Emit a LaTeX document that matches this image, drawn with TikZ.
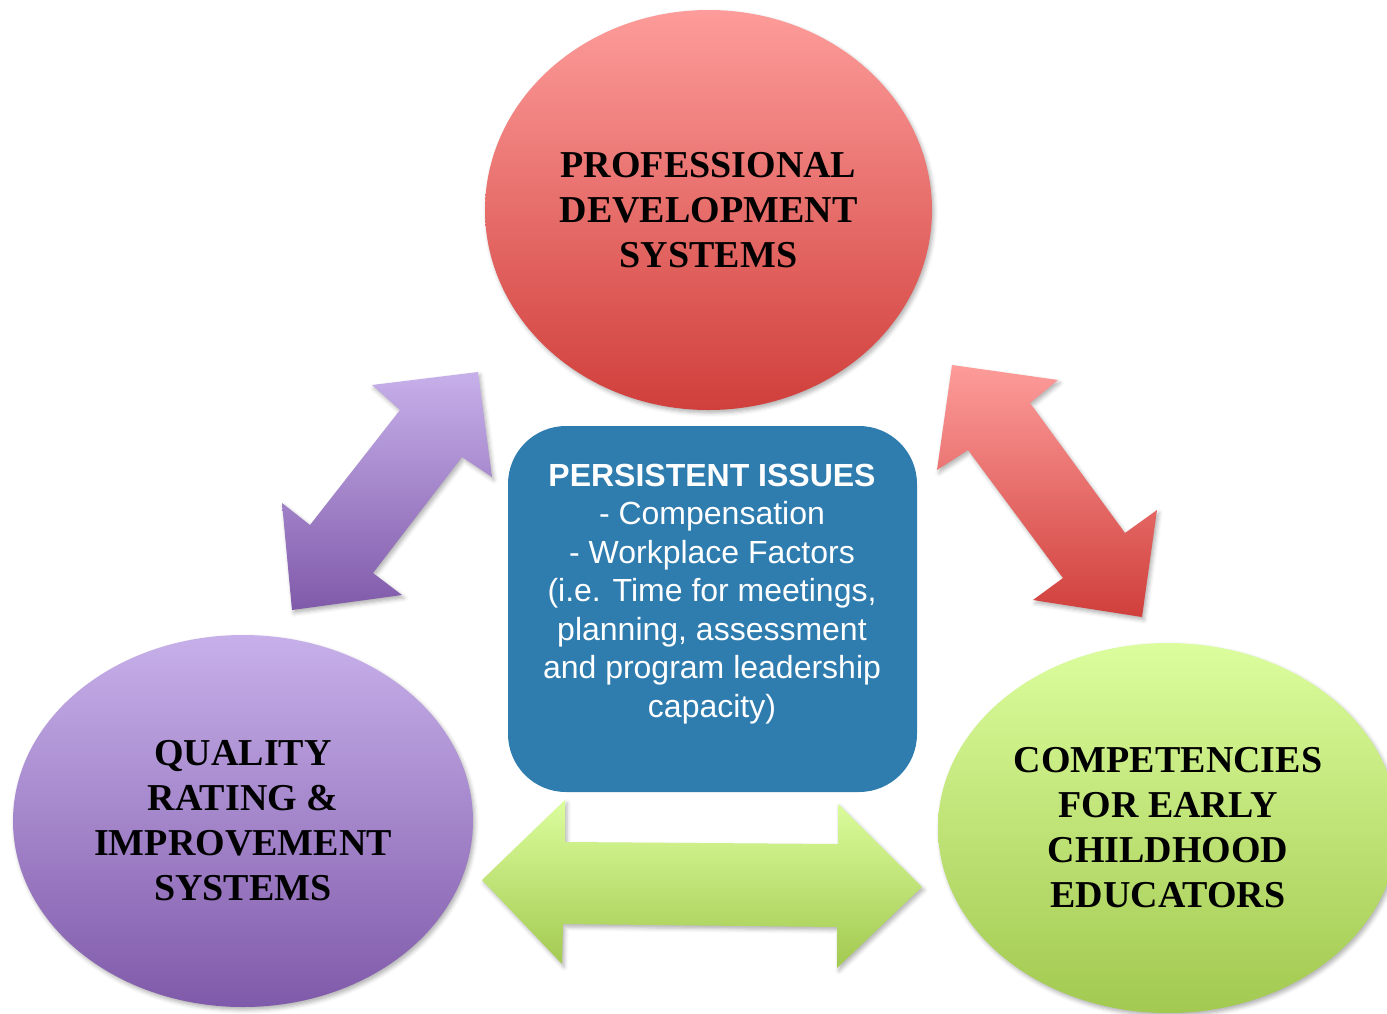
\documentclass[tikz,border=0pt]{standalone}
\usepackage{fontspec}
\setmainfont{Liberation Serif}
\newfontfamily\arialfont{Liberation Sans}
\usetikzlibrary{shapes.geometric,shadows.blur}
\definecolor{redtop}{HTML}{FD9C9A}
\definecolor{redbot}{HTML}{D03F3B}
\definecolor{purtop}{HTML}{C7B0EA}
\definecolor{purbot}{HTML}{805AAA}
\definecolor{grntop}{HTML}{DCFD9D}
\definecolor{grnbot}{HTML}{A2C950}
\definecolor{issueblue}{HTML}{2F7CAF}
\begin{document}
\begin{tikzpicture}[x=1pt,y=-1pt,
  softshadow/.style={blur shadow={shadow xshift=2pt,shadow yshift=-3pt,shadow blur radius=4pt,shadow opacity=30}},
  bubble/.style={ellipse, inner sep=0pt, align=center, softshadow,
    font=\fontsize{38}{45}\selectfont\bfseries, text=black},
  issuebox/.style={rectangle, rounded corners=58pt, fill=issueblue, inner sep=0pt},
  issuetext/.style={text=white, align=center, font=\arialfont\fontsize{32}{38.5}\selectfont},
  bigarrow/.style={softshadow}]
\useasboundingbox (0,0) rectangle (1387,1013);

% connector arrows (drawn first, beneath)
\coordinate (pa1) at (478,372);
\coordinate (pa2) at (292,610);
\shade[bigarrow, top color=purtop, bottom color=purbot]
  (pa1) -- (492,477) -- (462,457) -- (373,573) -- (402,595) -- (pa2)
  -- (282,503) -- (310,525) -- (400,410) -- (372,385) -- cycle;

\coordinate (ra1) at (952,365);
\coordinate (ra2) at (1142,617);
\shade[bigarrow, top color=redtop, bottom color=redbot]
  (ra1) -- (1058,380) -- (1030,403) -- (1125,533) -- (1157,510) -- (ra2)
  -- (1033,600) -- (1063,578) -- (968,450) -- (937,470) -- cycle;

\coordinate (ga1) at (482,880);
\coordinate (ga2) at (922,887);
\shade[bigarrow, top color=grntop, bottom color=grnbot]
  (ga1) -- (565,800) -- (565,842) -- (838,844) -- (838,804) -- (ga2)
  -- (837,968) -- (837,927) -- (563,924) -- (562,964) -- cycle;

% ellipses
\node[bubble, top color=redtop, bottom color=redbot,
  minimum width=447pt, minimum height=400pt] (pds) at (708.5,210)
  {PROFESSIONAL\\DEVELOPMENT\\SYSTEMS};
\node[bubble, top color=purtop, bottom color=purbot,
  minimum width=460pt, minimum height=372pt] (qris) at (243,821)
  {QUALITY\\RATING \&\\IMPROVEMENT\\SYSTEMS};
\node[bubble, top color=grntop, bottom color=grnbot,
  minimum width=460pt, minimum height=370pt] (cece) at (1168,828)
  {COMPETENCIES\\FOR EARLY\\CHILDHOOD\\EDUCATORS};

% central box
\node[issuebox, minimum width=409pt, minimum height=366pt] (box) at (712.5,609) {};
\node[issuetext] (issues) at (712,594)
  {{\bfseries PERSISTENT ISSUES}\\- Compensation\\- Workplace Factors\\(i.e. Time for meetings,\\planning, assessment\\and program leadership\\capacity)};
\end{tikzpicture}
\end{document}
